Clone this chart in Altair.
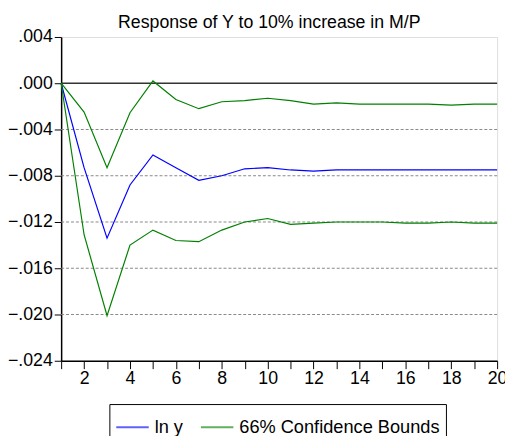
import altair as alt
import pandas as pd

periods = list(range(1, 21))
ln_y = [0.0, -0.0073, -0.0134, -0.0088, -0.0062, -0.0073, -0.0084, -0.0080, -0.0074, -0.0073,
        -0.0075, -0.0076, -0.0075, -0.0075, -0.0075, -0.0075, -0.0075, -0.0075, -0.0075, -0.0075]
upper = [0.0, -0.0025, -0.0073, -0.00255, 0.0002, -0.0014, -0.0022, -0.0016, -0.0015, -0.0013,
         -0.0015, -0.0018, -0.0017, -0.0018, -0.0018, -0.0018, -0.0018, -0.0019, -0.0018, -0.0018]
lower = [0.0, -0.0131, -0.0201, -0.0140, -0.0127, -0.0136, -0.0137, -0.0127, -0.0120, -0.0117,
         -0.0122, -0.0121, -0.0120, -0.0120, -0.0120, -0.0121, -0.0121, -0.0120, -0.0121, -0.0121]

series_names = ["ln y", "66% Confidence Bounds"]
y_ticks = [0.004, 0.0, -0.004, -0.008, -0.012, -0.016, -0.020, -0.024]
grid_values = [-0.004, -0.008, -0.012, -0.016, -0.020]
title_text = "Response of Y to 10% increase in M/P"

rows = []
for p, v in zip(periods, ln_y):
    rows.append({"period": p, "value": v, "series": series_names[0], "band": "mid"})
for p, v in zip(periods, upper):
    rows.append({"period": p, "value": v, "series": series_names[1], "band": "upper"})
for p, v in zip(periods, lower):
    rows.append({"period": p, "value": v, "series": series_names[1], "band": "lower"})
df = pd.DataFrame(rows)

FONT = "Liberation Sans"

x_enc = alt.X("period:Q",
              scale=alt.Scale(domain=[1, 20], nice=False, zero=False),
              axis=alt.Axis(values=periods, title=None,
                            labelExpr="datum.value % 2 == 0 ? datum.value : ''",
                            tickSize=8, labelPadding=1, grid=False,
                            domainColor="black", domainWidth=1.5,
                            tickColor="black", tickWidth=1,
                            labelFontSize=18, labelFont=FONT, labelColor="black",
                            labelFlush=False, labelOverlap=False))
y_enc = alt.Y("value:Q",
              scale=alt.Scale(domain=[-0.024, 0.004], nice=False, zero=False),
              axis=alt.Axis(values=y_ticks, title=None,
                            labelExpr="replace(format(datum.value, '.3f'), '0.', '.')",
                            tickSize=7, labelPadding=2, grid=False,
                            domainColor="black", domainWidth=1.5,
                            tickColor="black", tickWidth=1,
                            labelFontSize=18, labelFont=FONT, labelColor="black",
                            labelFlush=False, labelOverlap=False))

grid = alt.Chart(pd.DataFrame({"g": grid_values})).mark_rule(
    color="#888888", strokeWidth=1, strokeDash=[3, 2]
).encode(y=alt.Y("g:Q"))

zero = alt.Chart(pd.DataFrame({"z": [0.0]})).mark_rule(color="#333333", strokeWidth=1.5).encode(
    y=alt.Y("z:Q")
)

lines = alt.Chart(df).mark_line(strokeWidth=1.2).encode(
    x=x_enc,
    y=y_enc,
    color=alt.Color("series:N",
                    scale=alt.Scale(domain=series_names, range=["#0000ff", "#008000"]),
                    legend=alt.Legend(title=None, orient="none", legendX=49, legendY=373,
                                      direction="horizontal",
                                      symbolType="stroke", symbolSize=1089,
                                      symbolStrokeWidth=2, symbolOpacity=0.62,
                                      labelFontSize=18.5, labelFont=FONT, labelColor="black",
                                      labelLimit=0,
                                      labelOffset=5, columnPadding=14, padding=6,
                                      strokeColor="black")),
    detail="band:N",
)

chart = alt.layer(grid, zero, lines).properties(
    width=443, height=329,
    autosize=alt.AutoSizeParams(type="none"),
    padding={"left": 54, "top": 26, "right": 8, "bottom": 73},
    title=alt.Title(title_text, fontSize=18, font=FONT, fontWeight="normal", color="black",
                    anchor="middle", frame="group", dx=-10, offset=0, dy=4),
).configure_view(stroke="black", strokeWidth=1.5).configure(background="white")

chart.save("out.html", embed_options={"renderer": "svg", "actions": False})
